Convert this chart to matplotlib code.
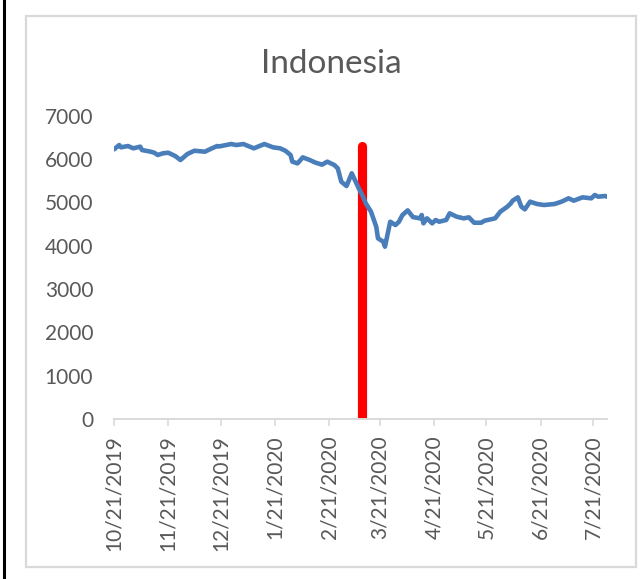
import matplotlib
matplotlib.use("Agg")
import matplotlib.pyplot as plt
import matplotlib.dates as mdates
from matplotlib.lines import Line2D
from matplotlib.patches import Rectangle
from matplotlib.ticker import FuncFormatter
from datetime import datetime

plt.rcParams['font.family'] = ['Lato', 'DejaVu Sans']

# Jakarta composite, daily close (sampled)
dates = [
    "2019-10-21", "2019-10-24", "2019-10-25", "2019-10-29", "2019-11-01",
    "2019-11-05", "2019-11-06", "2019-11-11", "2019-11-13", "2019-11-15",
    "2019-11-18", "2019-11-21", "2019-11-25", "2019-11-28", "2019-12-02",
    "2019-12-06", "2019-12-12", "2019-12-16", "2019-12-19", "2019-12-20",
    "2019-12-27", "2019-12-30", "2020-01-03", "2020-01-09", "2020-01-15",
    "2020-01-20", "2020-01-24", "2020-01-27", "2020-01-30", "2020-01-31",
    "2020-02-03", "2020-02-06", "2020-02-10", "2020-02-13", "2020-02-17",
    "2020-02-20", "2020-02-24", "2020-02-26", "2020-02-28", "2020-03-02",
    "2020-03-05", "2020-03-09", "2020-03-11", "2020-03-13", "2020-03-16",
    "2020-03-19", "2020-03-20", "2020-03-23", "2020-03-24", "2020-03-27",
    "2020-03-30", "2020-04-01", "2020-04-02", "2020-04-03", "2020-04-06",
    "2020-04-09", "2020-04-13", "2020-04-14", "2020-04-15", "2020-04-17",
    "2020-04-20", "2020-04-22", "2020-04-24", "2020-04-28", "2020-04-30",
    "2020-05-04", "2020-05-08", "2020-05-11", "2020-05-14", "2020-05-18",
    "2020-05-20", "2020-05-26", "2020-05-29", "2020-06-02", "2020-06-04",
    "2020-06-05", "2020-06-08", "2020-06-10", "2020-06-12", "2020-06-15",
    "2020-06-19", "2020-06-23", "2020-06-29", "2020-07-03", "2020-07-07",
    "2020-07-10", "2020-07-15", "2020-07-20", "2020-07-22", "2020-07-24",
    "2020-07-28", "2020-07-29",
]
jci = [
    6224, 6323, 6270, 6300, 6247,
    6285, 6208, 6169, 6146, 6093,
    6132, 6146, 6070, 5977, 6116,
    6192, 6169, 6247, 6300, 6290,
    6346, 6323, 6346, 6247, 6346,
    6270, 6247, 6192, 6093, 5939,
    5900, 6039, 5977, 5920, 5870,
    5939, 5862, 5785, 5477, 5377,
    5670, 5324, 5170, 4978, 4785,
    4438, 4170, 4093, 3977, 4553,
    4477, 4553, 4631, 4708, 4815,
    4660, 4631, 4708, 4516, 4631,
    4516, 4593, 4553, 4593, 4747,
    4669, 4631, 4654, 4530, 4530,
    4577, 4631, 4785, 4900, 4978,
    5038, 5116, 4900, 4839, 5016,
    4962, 4939, 4962, 5016, 5093,
    5039, 5116, 5093, 5170, 5131,
    5147, 5131,
]

# marker for the pandemic declaration
event_date = "2020-03-11"
event_top = 6300

tick_dates = [
    "2019-10-21", "2019-11-21", "2019-12-21", "2020-01-21", "2020-02-21",
    "2020-03-21", "2020-04-21", "2020-05-21", "2020-06-21", "2020-07-21",
]
y_ticks = [0, 1000, 2000, 3000, 4000, 5000, 6000, 7000]

to_dt = lambda s: datetime.strptime(s, "%Y-%m-%d")
x = [to_dt(d) for d in dates]

W, H = 644, 579
fig = plt.figure(figsize=(W / 100, H / 100), dpi=100)

# outer chart frame and the black edge on the left
fig.add_artist(Rectangle((26 / W, 1 - 567 / H), 610 / W, 551 / H,
                         transform=fig.transFigure, fill=False,
                         edgecolor='#D9D9D9', linewidth=1.6))
fig.add_artist(Line2D([3.5 / W, 3.5 / W], [0, 1], transform=fig.transFigure,
                      color='black', linewidth=2.2))

ax = fig.add_axes([114 / W, 1 - 419 / H, 493 / W, 303.3 / H])

ev = to_dt(event_date)
ax.plot([ev, ev], [0, event_top], color='#FF0000', linewidth=6.6,
        solid_capstyle='round', zorder=2)
ax.plot(x, jci, color='#4A7EBB', linewidth=3.3, solid_joinstyle='round',
        solid_capstyle='round', zorder=3)

ax.set_xlim(x[0], x[-1])
ax.set_ylim(0, 7000)

ax.set_xticks([to_dt(t) for t in tick_dates])
ax.xaxis.set_major_formatter(FuncFormatter(
    lambda v, pos: "{d.month}/{d.day}/{d.year}".format(d=mdates.num2date(v))))
ax.set_yticks(y_ticks)

for s in ['top', 'right', 'left']:
    ax.spines[s].set_visible(False)
ax.spines['bottom'].set_color('#D9D9D9')
ax.spines['bottom'].set_linewidth(1.4)

ax.tick_params(axis='x', colors='#D9D9D9', length=5, width=1.2, pad=7,
               labelcolor='#595959', labelsize=15, labelrotation=90)
ax.tick_params(axis='y', length=0, pad=15, labelcolor='#595959', labelsize=15)

fig.text(331 / W, 1 - 73 / H, "Indonesia", ha='center', va='baseline',
         fontsize=24, color='#595959')

fig.savefig("out.png", dpi=100)
